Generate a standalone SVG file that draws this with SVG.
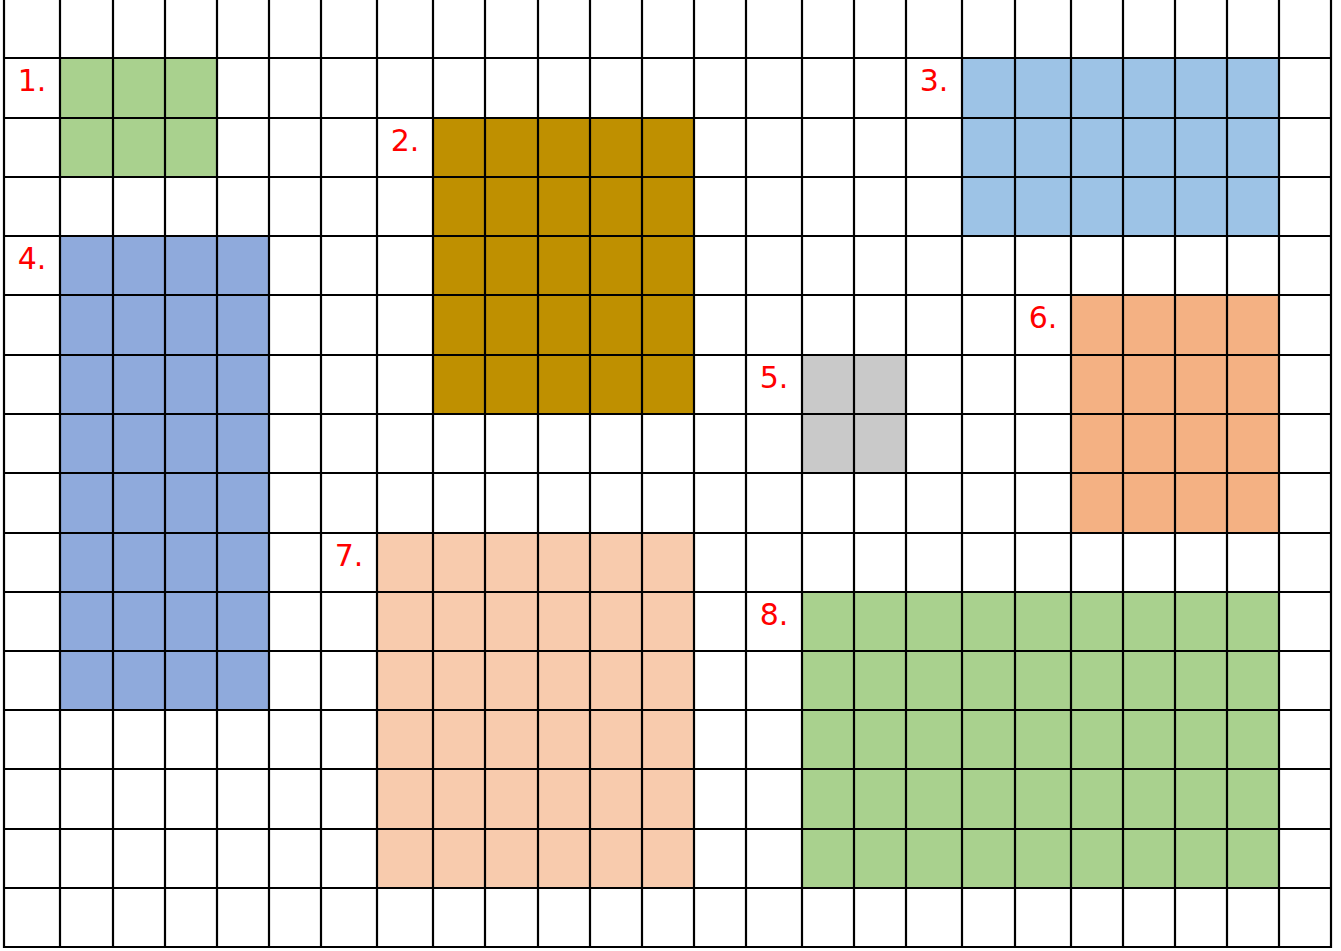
<svg xmlns="http://www.w3.org/2000/svg" width="1341" height="951" viewBox="0 0 1341 951">
<style>
.lbl{font-family:"DejaVu Sans",Verdana,sans-serif;font-size:30px;fill:#FF0000;text-anchor:middle}
.g line{stroke:#000;stroke-width:2.2}
</style>
<rect width="1341" height="951" fill="#fff"/>
<g id="block1"><rect x="60" y="58" width="157" height="119" fill="#A9D18E"/><text class="lbl" x="32" y="91">1.</text></g>
<g id="block2"><rect x="433" y="118" width="261" height="296" fill="#BF9000"/><text class="lbl" x="405" y="151">2.</text></g>
<g id="block3"><rect x="962" y="58" width="317" height="178" fill="#9DC3E6"/><text class="lbl" x="934" y="91">3.</text></g>
<g id="block4"><rect x="60" y="236" width="209" height="474" fill="#8FAADC"/><text class="lbl" x="32" y="269">4.</text></g>
<g id="block5"><rect x="802" y="355" width="104" height="118" fill="#C9C9C9"/><text class="lbl" x="774" y="388">5.</text></g>
<g id="block6"><rect x="1071" y="295" width="208" height="238" fill="#F4B183"/><text class="lbl" x="1043" y="328">6.</text></g>
<g id="block7"><rect x="377" y="533" width="317" height="355" fill="#F8CBAD"/><text class="lbl" x="349" y="566">7.</text></g>
<g id="block8"><rect x="802" y="592" width="477" height="296" fill="#A9D18E"/><text class="lbl" x="774" y="625">8.</text></g>
<g id="grid" class="g">
<line x1="4" y1="0" x2="4" y2="948"/>
<line x1="60" y1="0" x2="60" y2="948"/>
<line x1="113" y1="0" x2="113" y2="948"/>
<line x1="165" y1="0" x2="165" y2="948"/>
<line x1="217" y1="0" x2="217" y2="948"/>
<line x1="269" y1="0" x2="269" y2="948"/>
<line x1="321" y1="0" x2="321" y2="948"/>
<line x1="377" y1="0" x2="377" y2="948"/>
<line x1="433" y1="0" x2="433" y2="948"/>
<line x1="485" y1="0" x2="485" y2="948"/>
<line x1="538" y1="0" x2="538" y2="948"/>
<line x1="590" y1="0" x2="590" y2="948"/>
<line x1="642" y1="0" x2="642" y2="948"/>
<line x1="694" y1="0" x2="694" y2="948"/>
<line x1="746" y1="0" x2="746" y2="948"/>
<line x1="802" y1="0" x2="802" y2="948"/>
<line x1="854" y1="0" x2="854" y2="948"/>
<line x1="906" y1="0" x2="906" y2="948"/>
<line x1="962" y1="0" x2="962" y2="948"/>
<line x1="1015" y1="0" x2="1015" y2="948"/>
<line x1="1071" y1="0" x2="1071" y2="948"/>
<line x1="1123" y1="0" x2="1123" y2="948"/>
<line x1="1175" y1="0" x2="1175" y2="948"/>
<line x1="1227" y1="0" x2="1227" y2="948"/>
<line x1="1279" y1="0" x2="1279" y2="948"/>
<line x1="1331" y1="0" x2="1331" y2="948"/>
<line x1="3" y1="58" x2="1332" y2="58"/>
<line x1="3" y1="118" x2="1332" y2="118"/>
<line x1="3" y1="177" x2="1332" y2="177"/>
<line x1="3" y1="236" x2="1332" y2="236"/>
<line x1="3" y1="295" x2="1332" y2="295"/>
<line x1="3" y1="355" x2="1332" y2="355"/>
<line x1="3" y1="414" x2="1332" y2="414"/>
<line x1="3" y1="473" x2="1332" y2="473"/>
<line x1="3" y1="533" x2="1332" y2="533"/>
<line x1="3" y1="592" x2="1332" y2="592"/>
<line x1="3" y1="651" x2="1332" y2="651"/>
<line x1="3" y1="710" x2="1332" y2="710"/>
<line x1="3" y1="769" x2="1332" y2="769"/>
<line x1="3" y1="829" x2="1332" y2="829"/>
<line x1="3" y1="888" x2="1332" y2="888"/>
<line x1="3" y1="947" x2="1332" y2="947"/>
</g>
</svg>
